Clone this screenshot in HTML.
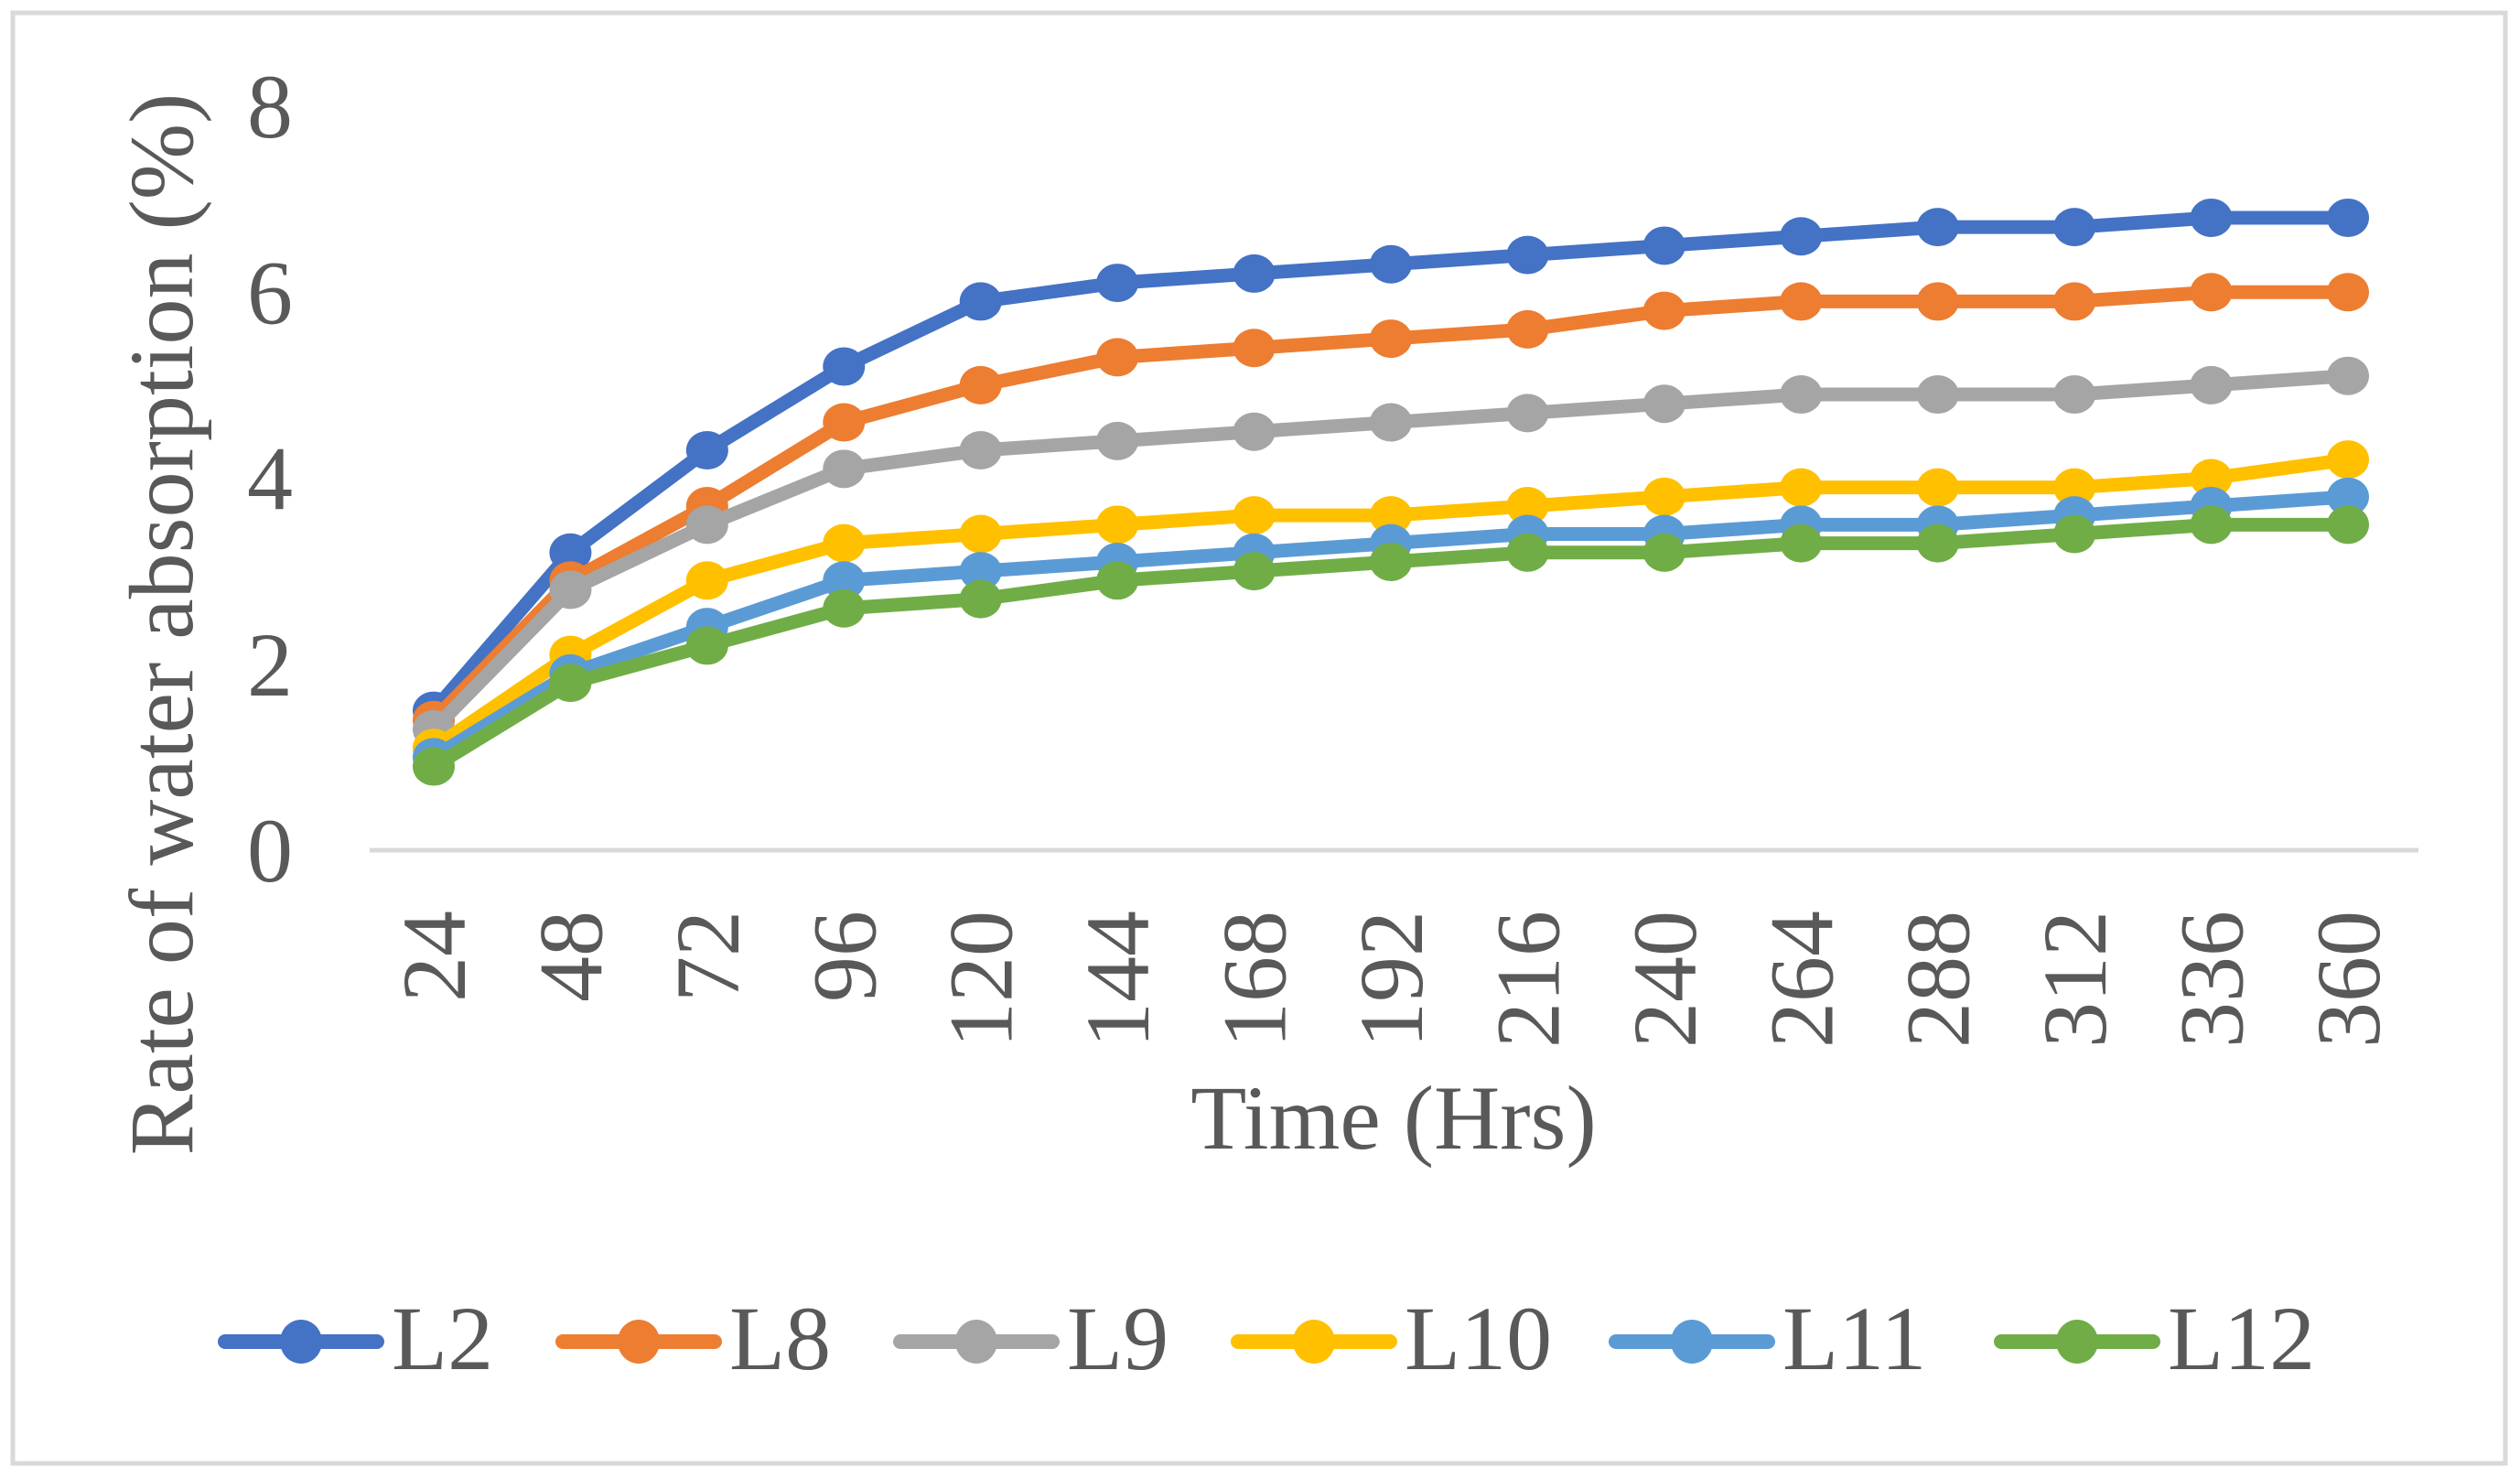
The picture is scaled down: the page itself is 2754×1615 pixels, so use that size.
<!DOCTYPE html>
<html><head><meta charset="utf-8"><style>
html,body{margin:0;padding:0;background:#fff}
svg{display:block}
text{font-family:"Liberation Serif",serif;fill:#595959}
</style></head><body>
<svg id="chart" width="2754" height="1615" viewBox="0 0 2754 1615" xmlns="http://www.w3.org/2000/svg">
<rect x="14" y="14" width="2724" height="1585" fill="#fff" stroke="#d9d9d9" stroke-width="5"/>
<g id="yticks"></g>
<g id="xticks"></g>
<line x1="404" y1="929" x2="2643" y2="929" stroke="#d9d9d9" stroke-width="5"/>
<g id="series"></g>
<text transform="translate(210,682) rotate(-90)" text-anchor="middle" font-size="100">Rate of water absorption (%)</text>
<text x="1523" y="1255" text-anchor="middle" font-size="100">Time (Hrs)</text>
<g id="legend"></g>
</svg>
<script>
const categories = [24,48,72,96,120,144,168,192,216,240,264,288,312,336,360];
const yTicks = [0,2,4,6,8];
const seriesNames = ["L2","L8","L9","L10","L11","L12"];
const seriesColors = ["#4472c4","#ed7d31","#a5a5a5","#ffc000","#5b9bd5","#70ad47"];
const L2 = [1.5,3.2,4.3,5.2,5.9,6.1,6.2,6.3,6.4,6.5,6.6,6.7,6.7,6.8,6.8];
const L8 = [1.4,2.9,3.7,4.6,5.0,5.3,5.4,5.5,5.6,5.8,5.9,5.9,5.9,6.0,6.0];
const L9 = [1.3,2.8,3.5,4.1,4.3,4.4,4.5,4.6,4.7,4.8,4.9,4.9,4.9,5.0,5.1];
const L10 = [1.1,2.1,2.9,3.3,3.4,3.5,3.6,3.6,3.7,3.8,3.9,3.9,3.9,4.0,4.2];
const L11 = [1.0,1.9,2.4,2.9,3.0,3.1,3.2,3.3,3.4,3.4,3.5,3.5,3.6,3.7,3.8];
const L12 = [0.9,1.8,2.2,2.6,2.7,2.9,3.0,3.1,3.2,3.2,3.3,3.3,3.4,3.5,3.5];
const seriesData = [L2,L8,L9,L10,L11,L12];

const NS="http://www.w3.org/2000/svg";
const x0=474, x1=2566, y0=929, yTop=116;
function xPos(i){return x0+(x1-x0)*i/(categories.length-1);}
function yPos(v){return y0-(y0-yTop)*v/8;}
function mk(tag,attrs,parent){const e=document.createElementNS(NS,tag);for(const k in attrs)e.setAttribute(k,attrs[k]);parent.appendChild(e);return e;}

const yg=document.getElementById('yticks');
yTicks.forEach(t=>{
  const e=mk('text',{x:320,y:yPos(t)+34,'text-anchor':'end','font-size':100},yg);
  
  
  e.textContent=t;
});
const xg=document.getElementById('xticks');
categories.forEach((c,i)=>{
  const e=mk('text',{transform:`translate(${xPos(i)+34},995) rotate(-90)`,'text-anchor':'end','font-size':100},xg);
  
  
  e.textContent=c;
});
const sg=document.getElementById('series');
seriesData.forEach((d,s)=>{
  const g=mk('g',{},sg);
  
  
  const pts=d.map((v,i)=>xPos(i)+','+yPos(v)).join(' ');
  const pl=mk('polyline',{points:pts,fill:'none',stroke:seriesColors[s],'stroke-width':15,'stroke-linejoin':'round'},g);
  
  
  d.forEach((v,i)=>{
    const c=mk('ellipse',{cx:xPos(i),cy:yPos(v),rx:23,ry:21,fill:seriesColors[s]},g);
    
    
  });
});
const lg=document.getElementById('legend');
const legX=[246,615,984,1353,1766,2187];
seriesNames.forEach((n,s)=>{
  const g=mk('g',{},lg);
  
  
  const lx=legX[s];
  mk('line',{x1:lx,y1:1466,x2:lx+166,y2:1466,stroke:seriesColors[s],'stroke-width':16,'stroke-linecap':'round'},g);
  mk('ellipse',{cx:lx+83,cy:1466,rx:23,ry:24,fill:seriesColors[s]},g);
  const t=mk('text',{x:lx+182,y:1496,'font-size':100},g);
  t.textContent=n;
});
</script>
</body></html>
